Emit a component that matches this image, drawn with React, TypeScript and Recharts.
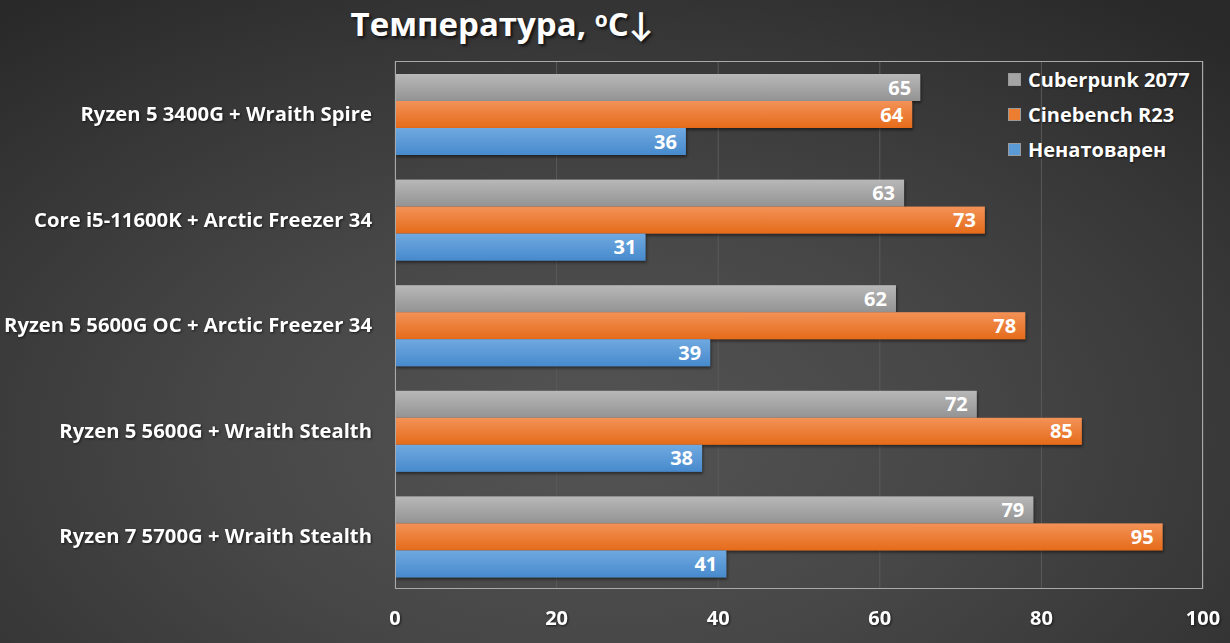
import { BarChart, Bar, XAxis, YAxis, CartesianGrid, LabelList } from "recharts";

const categories = [
  "Ryzen 5 3400G + Wraith Spire",
  "Core i5-11600K + Arctic Freezer 34",
  "Ryzen 5 5600G OC + Arctic Freezer 34",
  "Ryzen 5 5600G + Wraith Stealth",
  "Ryzen 7 5700G + Wraith Stealth",
];
const cyberpunk = [65, 63, 62, 72, 79];
const cinebench = [64, 73, 78, 85, 95];
const idle = [36, 31, 39, 38, 41];
const xTicks = [0, 20, 40, 60, 80, 100];

const series = [
  { key: "cyberpunk", name: "Cuberpunk 2077", top: "#b8b8b8", bottom: "#939393", swatch: "#a5a5a5" },
  { key: "cinebench", name: "Cinebench R23", top: "#f39257", bottom: "#e56b1a", swatch: "#ed7d31" },
  { key: "idle", name: "Ненатоварен", top: "#70a9e0", bottom: "#478acd", swatch: "#5b9bd5" },
];

const data = categories.map((name, i) => ({
  name,
  cyberpunk: cyberpunk[i],
  cinebench: cinebench[i],
  idle: idle[i],
}));

const FONT = "'Open Sans', Lato, sans-serif";
const SHADOW = "drop-shadow(1px 1px 1px rgba(0,0,0,0.6))";

function LegendBox() {
  return (
    <div style={{ fontFamily: FONT, fontWeight: 700, fontSize: 20, color: "#fff" }}>
      {series.map((s) => (
        <div key={s.key} style={{ display: "flex", alignItems: "center", height: 35 }}>
          <span
            style={{
              width: 11,
              height: 11,
              background: s.swatch,
              border: "1px solid #9a9a9a",
              marginRight: 7,
              display: "inline-block",
            }}
          />
          <span style={{ textShadow: "1px 1px 2px rgba(0,0,0,0.6)" }}>{s.name}</span>
        </div>
      ))}
    </div>
  );
}

function shapeFor(key: string) {
  return (props: any) => {
    const { x, y, width, height } = props;
    if (!width || width <= 0) return null;
    return (
      <rect
        x={x}
        y={y}
        width={width}
        height={height}
        fill={`url(#grad-${key})`}
        filter="url(#barShadow)"
      />
    );
  };
}

export default function App() {
  return (
    <div
      style={{
        position: "absolute",
        left: 0,
        top: 0,
        width: 1230,
        height: 643,
        overflow: "hidden",
        background:
          "radial-gradient(ellipse 75% 85% at 48% 68%, #545454 0%, #474747 40%, #363636 75%, #292929 100%)",
      }}
    >
      <div
        style={{
          position: "absolute",
          left: 0,
          width: 1004,
          top: 1,
          textAlign: "center",
          fontFamily: FONT,
          fontWeight: 700,
          fontSize: 33,
          color: "#fff",
          textShadow: "2px 2px 3px rgba(0,0,0,0.7)",
        }}
      >
        Температура, <sup style={{ fontSize: 21, verticalAlign: 9 }}>o</sup>C↓
      </div>
      <BarChart
        width={1230}
        height={643}
        data={data}
        layout="vertical"
        margin={{ top: 61, right: 27, bottom: 24, left: 0 }}
        barCategoryGap={13}
        barGap={0}
      >
        <defs>
          {series.map((s) => (
            <linearGradient key={s.key} id={`grad-${s.key}`} x1="0" y1="0" x2="0" y2="1">
              <stop offset="0%" stopColor={s.top} />
              <stop offset="100%" stopColor={s.bottom} />
            </linearGradient>
          ))}
          <filter id="barShadow" x="-5%" y="-20%" width="110%" height="160%">
            <feDropShadow dx="1" dy="2" stdDeviation="1.5" floodColor="#000" floodOpacity="0.5" />
          </filter>
        </defs>
        <CartesianGrid horizontal={false} stroke="#5a5a5a" strokeWidth={1} />
        <XAxis
          type="number"
          domain={[0, 100]}
          ticks={xTicks}
          height={30}
          axisLine={false}
          tickLine={false}
          tickSize={0}
          tickMargin={22}
          tick={{ fill: "#fff", fontSize: 20, fontWeight: 700, fontFamily: FONT, style: { filter: SHADOW } }}
          interval={0}
        />
        <YAxis
          type="category"
          dataKey="name"
          width={395}
          axisLine={false}
          tickLine={false}
          tickSize={0}
          tickMargin={23}
          interval={0}
          tick={{ fill: "#fff", fontSize: 20.3, fontWeight: 700, fontFamily: FONT, style: { filter: SHADOW } }}
        />
        {series.map((s) => (
          <Bar
            key={s.key}
            dataKey={s.key}
            name={s.name}
            fill={s.swatch}
            shape={shapeFor(s.key)}
            isAnimationActive={false}
          >
            <LabelList
              dataKey={s.key}
              position="insideRight"
              offset={9}
              fill="#fff"
              style={{ fontSize: 20, fontWeight: 700, fontFamily: FONT }}
            />
          </Bar>
        ))}
      </BarChart>
      <div style={{ position: "absolute", top: 62, left: 1008 }}>
        <LegendBox />
      </div>
      <div
        style={{
          position: "absolute",
          left: 395,
          top: 61,
          width: 808,
          height: 528,
          border: "1.5px solid #a9a9a9",
          boxSizing: "border-box",
          pointerEvents: "none",
        }}
      />
    </div>
  );
}
